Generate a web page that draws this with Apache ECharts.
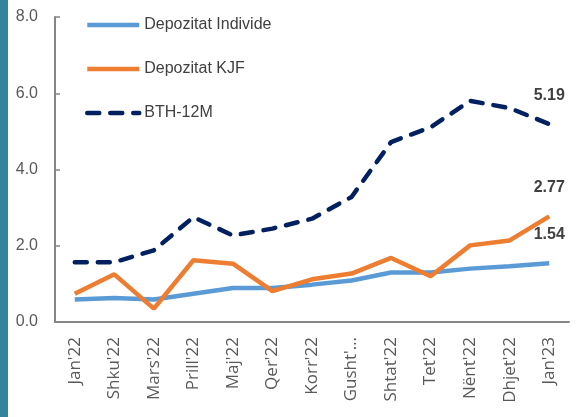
<!DOCTYPE html>
<html>
<head>
<meta charset="utf-8">
<script src="https://cdn.jsdelivr.net/npm/echarts@6/dist/echarts.min.js"></script>
<style>
  html, body { margin: 0; padding: 0; background: #fff; }
  #main { width: 579px; height: 417px; }
</style>
</head>
<body>
<div id="main"></div>
<script>
// muajt
var categories = ["Jan'22", "Shku'22", "Mars'22", "Prill'22", "Maj'22", "Qer'22", "Korr'22",
  "Gusht'…", "Shtat'22", "Tet'22", "Nënt'22", "Dhjet'22", "Jan'23"];

var depIndivide = [0.59, 0.63, 0.59, 0.74, 0.89, 0.89, 0.98, 1.09, 1.30, 1.30, 1.40, 1.46, 1.54];
var depKJF = [0.74, 1.25, 0.35, 1.62, 1.53, 0.81, 1.12, 1.27, 1.68, 1.20, 2.01, 2.14, 2.77];
var bth12M = [1.57, 1.57, 1.88, 2.75, 2.27, 2.45, 2.71, 3.28, 4.72, 5.11, 5.80, 5.61, 5.19];

var txtFont = "'Liberation Sans', Arial, sans-serif";

// vetem pika e fundit ka etikete
function withLastLabel(arr) {
  return arr.map(function (v, i) {
    if (i === arr.length - 1) return { value: v, label: { show: true } };
    return v;
  });
}

var endLabel = {
  show: false,
  position: 'top',
  distance: 21,
  fontFamily: txtFont,
  fontSize: 16,
  fontWeight: 'bold',
  color: '#404040',
  formatter: function (p) { return p.value.toFixed(2); }
};

var myChart = echarts.init(document.getElementById('main'));
var option = {
  animation: false,
  graphic: [{
    type: 'rect',
    left: 0, top: 0,
    shape: { width: 8, height: 417 },
    style: { fill: '#31859C' }
  }],
  grid: { left: 55, right: 10, top: 17, bottom: 95 },
  legend: {
    orient: 'vertical',
    left: 80,
    top: 10,
    itemWidth: 52,
    itemHeight: 14,
    itemGap: 24,
    itemStyle: { opacity: 0 },
    lineStyle: { width: 4.5 },
    textStyle: { fontFamily: txtFont, fontSize: 16, color: '#404040', lineHeight: 20 },
    data: ['Depozitat Individe', 'Depozitat KJF', 'BTH-12M']
  },
  xAxis: {
    type: 'category',
    data: categories,
    boundaryGap: true,
    axisLine: { lineStyle: { color: '#868686', width: 2 } },
    axisTick: { inside: true, length: 7, lineStyle: { color: '#868686', width: 1.5 } },
    axisLabel: {
      rotate: 90, interval: 0, margin: 15,
      fontFamily: "'Open Sans', sans-serif", fontSize: 17, color: '#595959'
    }
  },
  yAxis: {
    type: 'value',
    min: 0, max: 8, interval: 2,
    splitLine: { show: false },
    axisLine: { show: true, lineStyle: { color: '#868686', width: 2 } },
    axisTick: { show: true, inside: true, length: 5, lineStyle: { color: '#868686', width: 1.5 } },
    axisLabel: {
      margin: 17,
      fontFamily: txtFont, fontSize: 16, color: '#595959',
      formatter: function (v) { return v.toFixed(1); }
    }
  },
  series: [
    {
      name: 'Depozitat Individe',
      type: 'line',
      data: withLastLabel(depIndivide),
      showSymbol: true,
      symbolSize: 0,
      lineStyle: { color: '#5B9BD5', width: 4.5 },
      itemStyle: { color: '#5B9BD5' },
      label: endLabel
    },
    {
      name: 'Depozitat KJF',
      type: 'line',
      data: withLastLabel(depKJF),
      showSymbol: true,
      symbolSize: 0,
      lineStyle: { color: '#ED7D31', width: 4.5 },
      itemStyle: { color: '#ED7D31' },
      label: endLabel
    },
    {
      name: 'BTH-12M',
      type: 'line',
      data: withLastLabel(bth12M),
      showSymbol: true,
      symbolSize: 0,
      lineStyle: { color: '#002060', width: 4.5, type: [12, 11], cap: 'round' },
      itemStyle: { color: '#002060' },
      label: endLabel
    }
  ]
};
option && myChart.setOption(option);
</script>
</body>
</html>
